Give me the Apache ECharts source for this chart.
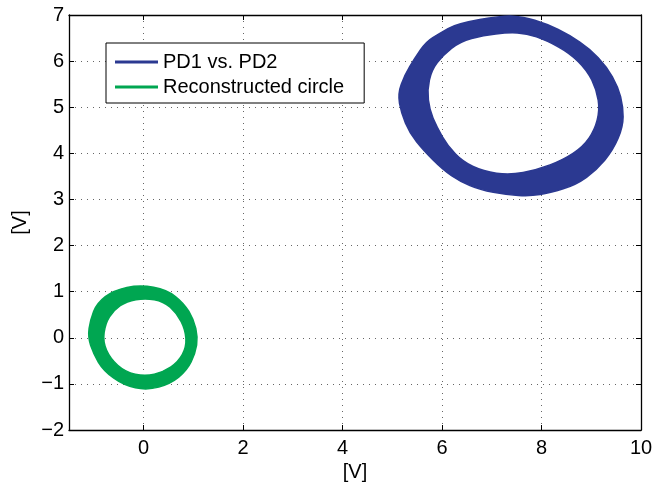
<!DOCTYPE html>
<html>
<head>
<meta charset="utf-8">
<script src="https://cdn.jsdelivr.net/npm/echarts@6/dist/echarts.min.js"></script>
<style>
  html, body { margin: 0; padding: 0; background: #fff; }
  #chart { width: 665px; height: 482px; }
</style>
</head>
<body>
<div id="chart"></div>
<script>
// ring outlines, [x, y] in volts
var pdOuter = [
    [7.23, 6.99], [6.29, 6.81], [5.95, 6.60], [5.68, 6.42], [5.45, 6.06], [5.25, 5.70],
    [5.11, 5.30], [5.18, 4.87], [5.35, 4.44], [5.62, 4.07], [6.02, 3.64], [6.36, 3.39],
    [6.76, 3.21], [7.30, 3.10], [7.77, 3.07], [8.17, 3.14], [8.70, 3.32], [9.11, 3.64],
    [9.44, 4.07], [9.64, 4.58], [9.64, 5.01], [9.54, 5.44], [9.31, 5.88], [8.97, 6.27],
    [8.57, 6.56], [8.10, 6.81], [7.63, 6.96]
];
var pdInner = [
    [7.33, 6.62], [6.83, 6.56], [6.36, 6.42], [6.02, 6.13], [5.79, 5.81], [5.70, 5.37],
    [5.75, 4.94], [5.89, 4.58], [6.12, 4.15], [6.42, 3.82], [6.83, 3.61], [7.36, 3.53],
    [7.90, 3.64], [8.44, 3.86], [8.84, 4.15], [9.07, 4.51], [9.17, 4.94], [9.11, 5.37],
    [8.91, 5.81], [8.57, 6.17], [8.10, 6.45], [7.70, 6.60]
];
var recOuter = [
    [-0.07, 1.15], [0.47, 1.04], [0.81, 0.75], [1.01, 0.39], [1.09, 0.02], [1.04, -0.34],
    [0.87, -0.71], [0.54, -1.00], [0.07, -1.14], [-0.40, -1.03], [-0.81, -0.71], [-1.01, -0.34],
    [-1.12, 0.02], [-1.07, 0.39], [-0.94, 0.75], [-0.60, 1.03]
];
var recInner = [
    [0.03, 0.86], [0.40, 0.79], [0.67, 0.53], [0.84, 0.17], [0.86, -0.20], [0.70, -0.52],
    [0.40, -0.74], [0.03, -0.84], [-0.37, -0.74], [-0.67, -0.45], [-0.82, -0.09], [-0.77, 0.31],
    [-0.60, 0.60], [-0.34, 0.79]
];
var seriesNames = ['PD1 vs. PD2', 'Reconstructed circle'];
var seriesColors = ['#2b3991', '#00a651'];
var yTicks = [-2, -1, 0, 1, 2, 3, 4, 5, 6, 7];

function signedArea(pts) {
    var s = 0;
    for (var i = 0; i < pts.length; i++) {
        var a = pts[i], b = pts[(i + 1) % pts.length];
        s += a[0] * b[1] - b[0] * a[1];
    }
    return s;
}

function fmt(p) {
    return p[0].toFixed(1) + ' ' + p[1].toFixed(1);
}

// closed loop, smoothed with quadratic curves through the midpoints
function loopPath(api, loop) {
    var pts = loop.map(function (v) { return api.coord(v); });
    var n = pts.length;
    var mid = function (i) {
        var a = pts[i % n], b = pts[(i + 1) % n];
        return [(a[0] + b[0]) / 2, (a[1] + b[1]) / 2];
    };
    var d = 'M' + fmt(mid(n - 1)) + ' ';
    for (var i = 0; i < n; i++) {
        d += 'Q' + fmt(pts[i]) + ' ' + fmt(mid(i)) + ' ';
    }
    return d + 'Z ';
}

function ringPath(api, outer, inner) {
    // inner loop must wind the other way so it is cut out
    var hole = inner.slice();
    if (signedArea(outer) * signedArea(hole) > 0) hole.reverse();
    return loopPath(api, outer) + loopPath(api, hole);
}

function ringSeries(name, color, outer, inner) {
    return {
        name: name,
        type: 'custom',
        coordinateSystem: 'cartesian2d',
        xAxisIndex: 0,
        yAxisIndex: 0,
        itemStyle: { color: color },
        data: [outer[0]],
        renderItem: function (params, api) {
            return {
                type: 'path',
                shape: { pathData: ringPath(api, outer, inner) },
                style: { fill: color, stroke: color, lineWidth: 1.5 }
            };
        }
    };
}

function minus(v) {
    return String(v).replace('-', '\u2212');
}

var fontName = '"Liberation Sans", Arial, sans-serif';
var gridDots = { show: true, lineStyle: { color: '#666', width: 1, type: [1, 5] } };
var boxLine = { show: true, onZero: false, lineStyle: { color: '#000', width: 1.3 } };

var myChart = echarts.init(document.getElementById('chart'));
var option = {
    animation: false,
    backgroundColor: '#fff',
    grid: { left: 69, right: 24, top: 15, bottom: 52, containLabel: false, outerBoundsMode: 'none' },
    legend: {
        orient: 'vertical',
        left: 106,
        top: 43,
        padding: [9, 20, 6, 9],
        itemGap: 5,
        itemWidth: 43,
        itemHeight: 3,
        borderColor: '#000',
        borderWidth: 1,
        backgroundColor: '#fff',
        textStyle: { fontFamily: fontName, fontSize: 20, color: '#000', lineHeight: 20 },
        data: [
            { name: seriesNames[0], icon: 'rect', itemStyle: { color: seriesColors[0] } },
            { name: seriesNames[1], icon: 'rect', itemStyle: { color: seriesColors[1] } }
        ]
    },
    xAxis: [{
        type: 'value',
        min: -1.5,
        max: 10,
        splitNumber: 6,
        name: '[V]',
        nameLocation: 'middle',
        nameGap: 25,
        nameTextStyle: { fontFamily: fontName, fontSize: 20, color: '#000' },
        axisLine: boxLine,
        axisTick: { show: true, inside: true, length: 5, lineStyle: { color: '#000' } },
        axisLabel: {
            showMinLabel: false,
            margin: 8,
            fontFamily: fontName, fontSize: 20, color: '#000',
            formatter: minus
        },
        splitLine: gridDots
    }, {
        type: 'value',
        position: 'top',
        min: -1.5,
        max: 10,
        splitNumber: 6,
        axisLine: boxLine,
        axisTick: { show: true, inside: true, length: 5, lineStyle: { color: '#000' } },
        axisLabel: { show: false },
        splitLine: { show: false }
    }],
    yAxis: [{
        type: 'value',
        min: yTicks[0],
        max: yTicks[yTicks.length - 1],
        interval: 1,
        name: '[V]',
        nameLocation: 'middle',
        nameGap: 34,
        nameTextStyle: { fontFamily: fontName, fontSize: 20, color: '#000' },
        axisLine: boxLine,
        axisTick: { show: true, inside: true, length: 5, lineStyle: { color: '#000' } },
        axisLabel: {
            margin: 5,
            fontFamily: fontName, fontSize: 20, color: '#000',
            formatter: minus
        },
        splitLine: gridDots
    }, {
        type: 'value',
        position: 'right',
        min: yTicks[0],
        max: yTicks[yTicks.length - 1],
        interval: 1,
        axisLine: boxLine,
        axisTick: { show: true, inside: true, length: 5, lineStyle: { color: '#000' } },
        axisLabel: { show: false },
        splitLine: { show: false }
    }],
    series: [
        ringSeries(seriesNames[0], seriesColors[0], pdOuter, pdInner),
        ringSeries(seriesNames[1], seriesColors[1], recOuter, recInner)
    ]
};

myChart.setOption(option);
</script>
</body>
</html>
